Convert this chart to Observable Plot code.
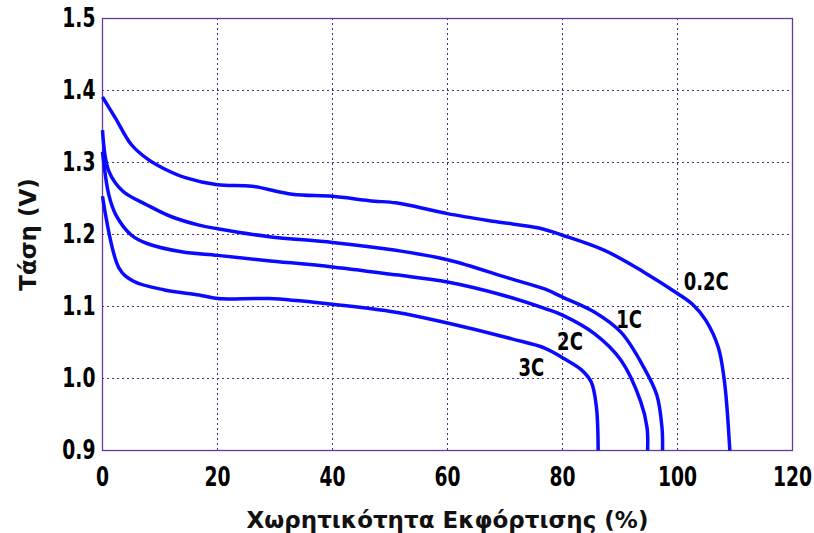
<!DOCTYPE html>
<html>
<head>
<meta charset="utf-8">
<script src="https://cdn.jsdelivr.net/npm/d3@7"></script>
<script src="https://cdn.jsdelivr.net/npm/@observablehq/plot@0.6"></script>
<style>
  html, body { margin: 0; padding: 0; background: #fff; }
  #chart svg { display: block; }
</style>
</head>
<body>
<div id="chart"></div>
<script>
// ---- data ----
const seriesNames = ["0.2C", "1C", "2C", "3C"];

const x02 = [0, 2.3, 5.0, 7.8, 10.8, 14.4, 20, 26, 33, 40, 46.4, 51, 53.8, 60, 68.3, 75.9, 80, 87.3, 94.1, 100, 102.6, 104.9, 107.1, 108.1, 108.6, 109.1];
const y02 = [1.391, 1.361, 1.325, 1.305, 1.291, 1.279, 1.269, 1.267, 1.256, 1.253, 1.247, 1.244, 1.240, 1.229, 1.218, 1.209, 1.199, 1.178, 1.148, 1.118, 1.103, 1.081, 1.043, 1.0, 0.96, 0.9];

const x1 = [0, 1.1, 3.55, 7.75, 11.9, 16.8, 20, 29, 40, 51, 60, 70.8, 77, 80, 85.6, 90.2, 94.1, 96.4, 97.3, 97.4];
const y1 = [1.345, 1.288, 1.260, 1.241, 1.225, 1.213, 1.208, 1.197, 1.189, 1.178, 1.165, 1.139, 1.124, 1.113, 1.092, 1.064, 1.016, 0.977, 0.932, 0.9];

const x2 = [0, 1.1, 2.34, 5.05, 7.75, 13.75, 20, 28.4, 40, 51, 60, 69.5, 77, 80, 85.6, 90.2, 93.6, 94.7, 94.8];
const y2 = [1.315, 1.255, 1.227, 1.199, 1.1875, 1.176, 1.171, 1.164, 1.155, 1.144, 1.134, 1.116, 1.097, 1.088, 1.062, 1.025, 0.968, 0.932, 0.9];

const x3 = [0, 2.9, 5.4, 10.8, 16.8, 20, 29, 40, 51, 60, 71.2, 77, 80.4, 83.3, 85.0, 85.9, 86.2];
const y3 = [1.253, 1.153, 1.135, 1.123, 1.116, 1.111, 1.111, 1.103, 1.092, 1.077, 1.055, 1.042, 1.027, 1.012, 0.995, 0.96, 0.9];

// curve label anchor positions (data units)
const labelX = [105, 91.6, 81.3, 74.6];
const labelY = [1.134, 1.081, 1.050, 1.014];

const xTicks = [0, 20, 40, 60, 80, 100, 120];
const yTicks = [0.9, 1.0, 1.1, 1.2, 1.3, 1.4, 1.5];

const xLabel = "Χωρητικότητα Εκφόρτισης (%)";
const yLabel = "Τάση (V)";

// ---- build table ----
const xs = [x02, x1, x2, x3];
const ys = [y02, y1, y2, y3];
const rows = [];
seriesNames.forEach((name, i) => {
  xs[i].forEach((x, j) => rows.push({series: name, x, y: ys[i][j]}));
});
const labels = seriesNames.map((name, i) => ({name, x: labelX[i], y: labelY[i]}));

const font = "'DejaVu Sans', sans-serif";
const gridColor = "#4a2a8a";

const chart = Plot.plot({
  width: 814,
  height: 533,
  marginTop: 18,
  marginBottom: 83,
  marginLeft: 102,
  marginRight: 22,
  style: {background: "#fff", overflow: "visible"},
  x: {domain: [0, 120]},
  y: {domain: [0.9, 1.5]},
  marks: [
    Plot.gridX(xTicks, {stroke: gridColor, strokeOpacity: 1, strokeWidth: 1, strokeDasharray: "2,3"}),
    Plot.gridY(yTicks, {stroke: gridColor, strokeOpacity: 1, strokeWidth: 1, strokeDasharray: "2,3"}),
    Plot.frame({stroke: "#6a3a9a", strokeWidth: 1.3}),
    Plot.axisX(xTicks, {
      tickSize: 0, tickPadding: 17, label: null,
      tickFormat: d3.format("d"),
      fontSize: 26, fontWeight: "bold", fontFamily: font, fill: "#000"
    }),
    Plot.axisY(yTicks, {
      tickSize: 0, tickPadding: 7, label: null,
      tickFormat: d3.format(".1f"),
      fontSize: 26, fontWeight: "bold", fontFamily: font, fill: "#000"
    }),
    Plot.line(rows, {
      x: "x", y: "y", z: "series",
      stroke: "#0a0aff", strokeWidth: 3.5, curve: "catmull-rom",
      strokeLinejoin: "round", strokeLinecap: "butt"
    }),
    Plot.text(labels, {
      x: "x", y: "y", text: "name",
      fontSize: 24, fontWeight: "bold", fontFamily: font, fill: "#000"
    }),
    Plot.text([xLabel], {
      frameAnchor: "bottom", dy: 70, text: d => d,
      textAnchor: "middle", lineAnchor: "middle",
      fontSize: 23, fontWeight: "bold", fontFamily: font, fill: "#111"
    }),
    Plot.text([yLabel], {
      frameAnchor: "left", dx: -74, rotate: -90, text: d => d,
      textAnchor: "middle", lineAnchor: "middle",
      fontSize: 23, fontWeight: "bold", fontFamily: font, fill: "#111"
    })
  ]
});

// condense the tick and curve-label glyphs horizontally (narrow bold look)
function condense(el, k) {
  const t = el.getAttribute("transform") || "";
  const xa = el.getAttribute("x");
  let extra = "";
  if (xa !== null && !isNaN(+xa)) { extra = ` translate(${+xa},0)`; el.removeAttribute("x"); }
  el.setAttribute("transform", `${t}${extra} scale(${k},1)`);
}
d3.select(chart).selectAll('g[aria-label*="tick label"] text').each(function () { condense(this, 0.72); });
d3.select(chart).selectAll("text")
  .filter(function () { return seriesNames.includes(this.textContent.trim()); })
  .each(function () { condense(this, 0.75); });

document.getElementById("chart").appendChild(chart);
</script>
</body>
</html>
